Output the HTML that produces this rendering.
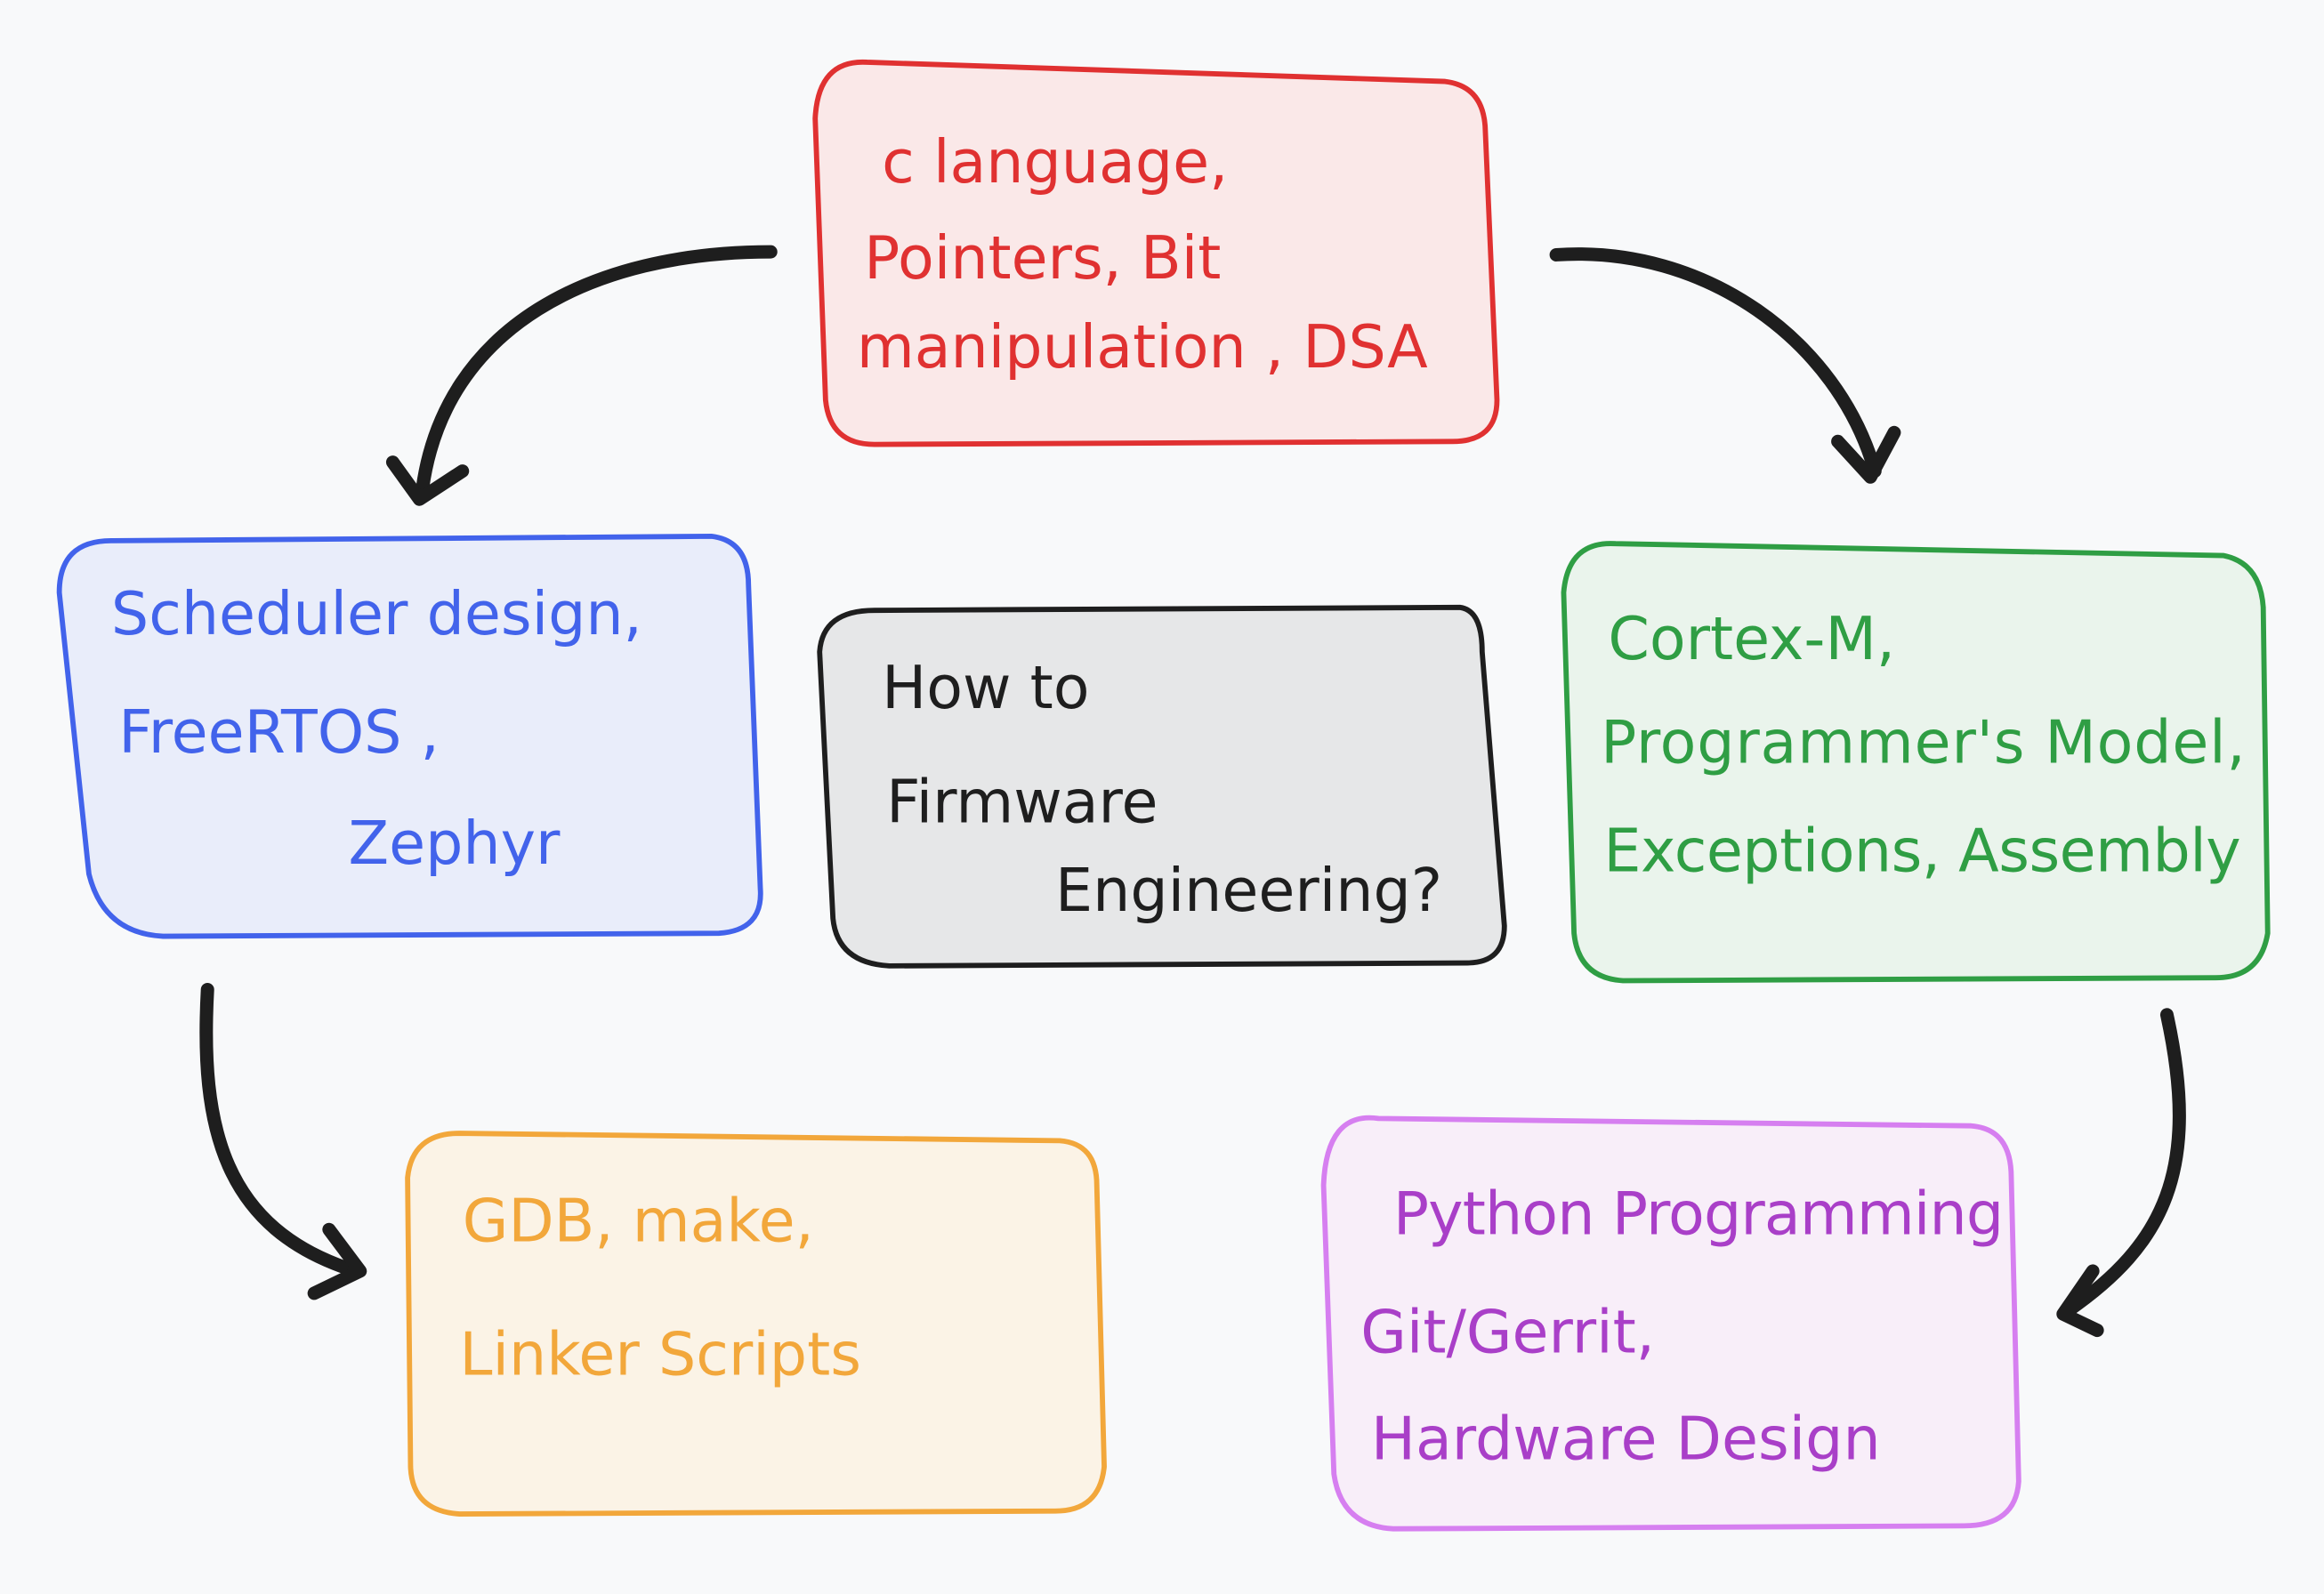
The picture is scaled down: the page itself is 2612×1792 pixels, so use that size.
<!DOCTYPE html>
<html><head><style>
html,body{margin:0;padding:0;background:#f8f9fa;}
svg{display:block}
text{font-family:"DejaVu Sans","Liberation Sans",sans-serif;font-size:40px;}
</style></head><body>
<svg width="2612" height="1792" viewBox="0 0 1568 1076" preserveAspectRatio="none" xmlns="http://www.w3.org/2000/svg">
<rect width="1568" height="1076" fill="#f8f9fa"/>
<g stroke-width="3.5" stroke-linejoin="round">
<path d="M585,42 L975,55 Q1000,58 1002,85 L1010,270 Q1010,298 980,298 L590,300 Q560,300 557,270 L550,80 Q552,40 585,42Z" fill="#fae8e8" stroke="#e03131"/>
<path d="M75,365 L480,362 Q505,365 505,395 L513,600 Q515,628 485,630 L110,632 Q70,630 60,590 L40,400 Q40,365 75,365Z" fill="#e9edfa" stroke="#4263eb"/>
<path d="M590,412 L985,410 Q1000,412 1000,440 L1015,625 Q1015,650 990,650 L600,652 Q565,650 562,620 L553,440 Q555,412 590,412Z" fill="#e6e7e8" stroke="#1e1e1e"/>
<path d="M1090,367 L1500,375 Q1525,380 1527,410 L1530,630 Q1525,660 1495,660 L1095,662 Q1065,660 1062,630 L1055,400 Q1058,365 1090,367Z" fill="#eaf4ec" stroke="#2f9e44"/>
<path d="M310,765 L715,770 Q740,772 740,800 L745,990 Q742,1020 712,1020 L310,1022 Q278,1020 277,990 L275,795 Q278,765 310,765Z" fill="#fbf3e6" stroke="#f2a73b"/>
<path d="M930,755 L1330,760 Q1357,762 1357,795 L1362,1000 Q1360,1030 1325,1030 L940,1032 Q905,1030 900,995 L893,800 Q895,750 930,755Z" fill="#f8eef9" stroke="#d67ff0"/>
</g>
<g fill="none" stroke="#1e1e1e" stroke-width="9" stroke-linecap="round" stroke-linejoin="round">
<path d="M520,170 C400,170 300,220 285,330"/>
<path d="M265,312 L283,337 L312,318"/>
<path d="M1050,172 C1150,165 1240,230 1265,318"/>
<path d="M1240,298 L1262,322 L1278,292"/>
<path d="M140,668 C135,760 150,830 240,858"/>
<path d="M222,830 L243,858 L212,873"/>
<path d="M1462,685 C1485,790 1460,840 1395,885"/>
<path d="M1412,858 L1392,887 L1415,898"/>
</g>
<g>
<text x="595" y="123" fill="#e03131">c language,</text>
<text x="583" y="188" fill="#e03131">Pointers, Bit</text>
<text x="578" y="248" fill="#e03131">manipulation , DSA</text>
<text x="75" y="428" fill="#4263eb">Scheduler design,</text>
<text x="80" y="508" fill="#4263eb">FreeRTOS ,</text>
<text x="235" y="583" fill="#4263eb">Zephyr</text>
<text x="595" y="478" fill="#1e1e1e">How to</text>
<text x="598" y="555" fill="#1e1e1e">Firmware</text>
<text x="712" y="615" fill="#1e1e1e">Engineering?</text>
<text x="1085" y="445" fill="#2f9e44">Cortex-M,</text>
<text x="1080" y="515" fill="#2f9e44" textLength="435">Programmer's Model,</text>
<text x="1082" y="588" fill="#2f9e44" textLength="430">Exceptions, Assembly</text>
<text x="312" y="838" fill="#f2a73b">GDB, make,</text>
<text x="310" y="928" fill="#f2a73b">Linker Scripts</text>
<text x="940" y="833" fill="#a93fc8" textLength="412">Python Programming</text>
<text x="918" y="913" fill="#a93fc8">Git/Gerrit,</text>
<text x="925" y="985" fill="#a93fc8">Hardware Design</text>
</g>
</svg>
</body></html>
